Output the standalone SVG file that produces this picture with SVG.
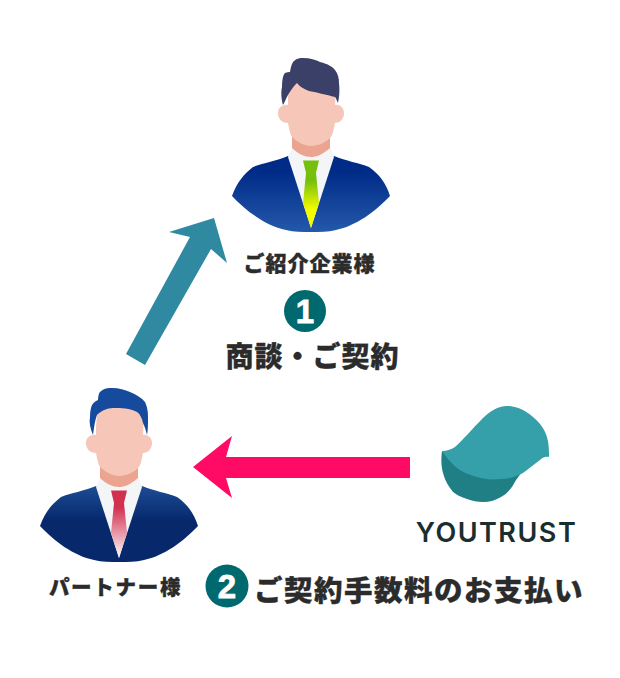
<svg xmlns="http://www.w3.org/2000/svg" width="620" height="678" viewBox="0 0 620 678">
<style>
.skin{fill:#f6c7b9}.neck{fill:#eba48f}.collar{fill:#f4f5f7}
.jp{font-family:"Noto Sans CJK JP","Noto Sans",sans-serif;font-weight:900;fill:#2b2b2b;stroke:#2b2b2b;stroke-width:.35;text-anchor:middle;dominant-baseline:central}
.num{fill:#00696f}.digit{font-family:"Liberation Sans",Arial,sans-serif;font-weight:700;fill:#fff;stroke:#fff;stroke-width:.8;text-anchor:middle}
</style>
<defs>
<linearGradient id="suitA" x1="0" y1="0" x2="0" y2="1"><stop offset="0.2" stop-color="#002b87"/><stop offset="1" stop-color="#2459aa"/></linearGradient>
<linearGradient id="suitB" x1="0" y1="0" x2="0" y2="1"><stop offset="0" stop-color="#1d4c95"/><stop offset="0.45" stop-color="#07296c"/><stop offset="1" stop-color="#07296c"/></linearGradient>
<linearGradient id="tieA" x1="0" y1="0" x2="0" y2="1"><stop offset="0.3" stop-color="#76bf0c"/><stop offset="0.72" stop-color="#f4fb00"/></linearGradient>
<linearGradient id="tieB" x1="0" y1="0" x2="0" y2="1"><stop offset="0.25" stop-color="#d2304f"/><stop offset="0.95" stop-color="#fbeef0"/></linearGradient>
<path id="bust" d="M232,196C237,182 244,174 253,167C263,163 276,161 288,156L334,156C346,161 359,163 369,167C379,174 386,183 390,196C376,211 356,226 336,230C328,232 320,232 311,232C302,232 294,232 286,230C266,226 246,211 232,196Z"/>
<path id="shirt" d="M288,157L293,146L330,146L334,157L311,228Z"/>
<path id="neckshape" d="M292,134H330V148C322,155 316,157 311,157C305,157 298,154 292,148Z"/>
<path id="tie" d="M303,160.500H319L316,173L319,203L311,228L303,203L306,173Z"/>
<path id="head" d="M288,105C282,104 278,108 278,113C278,119 282,123 288,123C289,128 290,134 292,137C297,142 305,146 311,146C318,146 327,142 331,137C333,134 334,128 335,123C340,123 344,119 344,113C344,108 340,104 335,105C336,92 335,82 334,78L292,78C288,84 288,96 288,105Z"/>
</defs>
<g id="connectors">
<path id="arrow-deal" fill="#2f8aa1" d="M214,218L169,232L190,237L126,354L145,365L211,249L227,263Z"/>
<path id="arrow-fee" fill="#ff0a64" d="M193,467L232,436L226,457H410V478H226L232,498Z"/>
</g>
<g id="client">
<use href="#bust" fill="url(#suitA)"/>
<use href="#shirt" class="collar"/>
<use href="#neckshape" class="neck"/>
<use href="#head" class="skin"/>
<use href="#tie" fill="url(#tieA)"/>
<path fill="#3b4069" d="M283,105C281,98 281,91 282,87C282,80 283,75 285,73C287,72 289,72 290,72C291,66 292,63 294,61C297,58 300,58 303,58C310,58 316,60 320,62C328,64 333,67 335,70C338,74 339,78 339,83C340,92 339,98 338,103C337,101 336,98 335,97C327,95 315,92 309,91C304,89 300,87 297,83C292,88 290,92 288,95C286,98 285,102 283,105Z"/>
<text class="jp" x="309.500" y="262" font-size="21" letter-spacing="1">ご紹介企業様</text>
</g>
<g id="partner">
<use href="#bust" x="-192" y="330" fill="url(#suitB)"/>
<use href="#shirt" x="-192" y="330" class="collar"/>
<use href="#neckshape" x="-192" y="330" class="neck"/>
<use href="#head" x="-192" y="330" class="skin"/>
<use href="#tie" x="-192" y="330" fill="url(#tieB)"/>
<path fill="#154a9c" d="M93,435C90,428 89,422 90,417C90,411 91,407 92,405C94,402 96,401 98,400C98,396 99,393 100,392C104,388 108,388 112,388C119,388 125,390 130,392C137,395 142,398 145,402C147,406 148,411 148,417C148,424 148,430 147,435C146,431 145,427 143,423C142,418 140,414 137,412C130,408 121,408 113,408C107,408 101,411 97,415C95,420 94,428 93,435Z"/>
<text class="jp" x="115.500" y="586" font-size="20.500" letter-spacing="1.700">パートナー様</text>
</g>
<g id="youtrust">
<path fill="#1f7f85" d="M442,451C441,458 441,466 443,473C445,481 449,487 453,492C458,496 462,497 467,499C472,501 478,502 483,502C490,502 496,500 501,497C507,494 512,488 516,480L522,472L470,470Z"/>
<path fill="#35a0a9" d="M442,451C447,451 452,449 455,447C462,441 472,429 483,418C490,411 498,406 507,406C516,406 525,410 533,417C541,424 545,430 547,437C549,444 549,451 549,457C545,456 542,458 540,460C534,464 529,469 523,473C516,477 508,479 500,479C491,480 484,479 477,477C469,475 462,472 457,468C451,463 446,457 442,451Z"/>
<text x="496.500" y="541.500" text-anchor="middle" font-family="Inter,'Liberation Sans',sans-serif" font-weight="600" font-size="27" letter-spacing="1.500" fill="#1b2e2f">YOUTRUST</text>
</g>
<g id="step1">
<circle class="num" cx="305" cy="311" r="21"/>
<text class="digit" x="305" y="323" font-size="33">1</text>
<text class="jp" x="312.500" y="355" font-size="28" letter-spacing="1">商談・ご契約</text>
</g>
<g id="step2">
<circle class="num" cx="227" cy="586" r="21.500"/>
<text class="digit" x="227" y="598" font-size="33">2</text>
<text class="jp" x="419" y="588" font-size="28.500" letter-spacing="1.500">ご契約手数料のお支払い</text>
</g>
</svg>
